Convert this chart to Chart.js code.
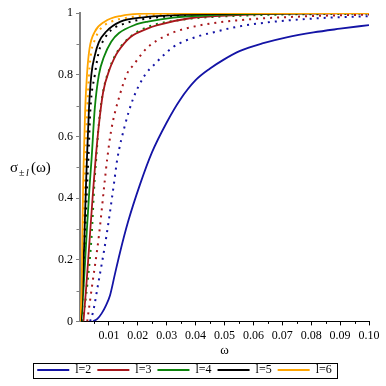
<!DOCTYPE html>
<html>
<head>
<meta charset="utf-8">
<script src="https://cdn.jsdelivr.net/npm/chart.js@4.4.1/dist/chart.umd.min.js"></script>
<style>
html,body{margin:0;padding:0;background:#fff;}
#wrap{width:386px;height:386px;position:relative;}
</style>
</head>
<body>
<div id="wrap"><canvas id="c" width="386" height="386"></canvas></div>
<script>
// ---- data (omega, sigma) ----
const xTicks = [0.01,0.02,0.03,0.04,0.05,0.06,0.07,0.08,0.09,0.10];
const yTicks = [0,0.2,0.4,0.6,0.8,1];
const legendLabels = ['l=2','l=3','l=4','l=5','l=6'];
const seriesColors = ['#1414a6','#a8171c','#0c840c','#000000','#ffa500'];

const w_l2_solid = [0.0045,0.0060,0.0075,0.0090,0.0104,0.0120,0.0138,0.0166,0.0208,0.0249,0.0300,0.0346,0.0400,0.0450,0.0496,0.0554,0.0634,0.0715,0.0808,0.0900,0.1000];
const s_l2_solid = [0,0.008,0.026,0.052,0.085,0.150,0.222,0.322,0.445,0.548,0.645,0.718,0.782,0.820,0.848,0.877,0.902,0.921,0.937,0.949,0.961];
const w_l2_dot = [0.0035,0.0045,0.0062,0.0091,0.0118,0.0129,0.0155,0.0183,0.0224,0.0254,0.0323,0.0404,0.0460,0.0542,0.0634,0.0807,0.1000];
const s_l2_dot = [0,0.030,0.117,0.274,0.450,0.526,0.634,0.720,0.798,0.830,0.890,0.923,0.937,0.955,0.968,0.982,0.990];

const w_l3_solid = [0.0012,0.0022,0.0034,0.0045,0.0054,0.0065,0.0080,0.0103,0.0118,0.0131,0.0175,0.0235,0.0265,0.0380,0.0540,0.0750,0.1000];
const s_l3_solid = [0,0.117,0.274,0.420,0.526,0.634,0.743,0.819,0.852,0.874,0.922,0.950,0.960,0.983,0.993,0.998,0.999];
const w_l3_dot = [0.0025,0.0042,0.0065,0.0085,0.0094,0.0108,0.0137,0.0166,0.0184,0.0201,0.0230,0.0265,0.0323,0.0404,0.0542,0.0750,0.1000];
const s_l3_dot = [0,0.117,0.274,0.450,0.526,0.620,0.732,0.809,0.830,0.852,0.885,0.910,0.937,0.958,0.976,0.988,0.995];

const w_l4_solid = [0.0005,0.0015,0.0024,0.0034,0.0040,0.0051,0.0065,0.0083,0.0108,0.0135,0.0189,0.0235,0.0323,0.0540,0.1000];
const s_l4_solid = [0,0.150,0.300,0.450,0.526,0.689,0.798,0.858,0.907,0.935,0.961,0.972,0.985,0.996,1.000];
const w_l4_dot = [0.0010,0.0025,0.0040,0.0050,0.0056,0.0065,0.0080,0.0103,0.0130,0.0175,0.0235,0.0350,0.0550,0.1000];
const s_l4_dot = [0,0.117,0.274,0.450,0.526,0.640,0.745,0.822,0.876,0.924,0.955,0.978,0.991,0.998];

const w_l5_solid = [0.0003,0.0011,0.0016,0.0021,0.0024,0.0031,0.0039,0.0052,0.0065,0.0091,0.0140,0.0220,0.0350,0.0600,0.1000];
const s_l5_solid = [0,0.150,0.300,0.450,0.526,0.689,0.798,0.865,0.905,0.940,0.972,0.986,0.994,0.999,1.000];
const w_l5_dot = [0.0004,0.0013,0.0019,0.0025,0.0029,0.0036,0.0051,0.0065,0.0085,0.0108,0.0155,0.0224,0.0350,0.0600,0.1000];
const s_l5_dot = [0,0.150,0.300,0.450,0.526,0.689,0.798,0.874,0.917,0.945,0.966,0.981,0.991,0.998,1.000];

const w_l6_solid = [0,0.0006,0.0008,0.0011,0.0013,0.0018,0.0024,0.0033,0.0051,0.0085,0.0143,0.0235,0.0500,0.1000];
const s_l6_solid = [0,0.120,0.274,0.450,0.526,0.689,0.798,0.885,0.939,0.972,0.991,0.998,1.000,1.000];
const w_l6_dot = [0.0002,0.0009,0.0012,0.0016,0.0018,0.0025,0.0031,0.0039,0.0051,0.0068,0.0108,0.0166,0.0250,0.0500,0.1000];
const s_l6_dot = [0,0.150,0.300,0.450,0.526,0.689,0.798,0.874,0.912,0.945,0.972,0.985,0.993,0.999,1.000];

const solidW = [w_l2_solid,w_l3_solid,w_l4_solid,w_l5_solid,w_l6_solid];
const solidS = [s_l2_solid,s_l3_solid,s_l4_solid,s_l5_solid,s_l6_solid];
const dotW = [w_l2_dot,w_l3_dot,w_l4_dot,w_l5_dot,w_l6_dot];
const dotS = [s_l2_dot,s_l3_dot,s_l4_dot,s_l5_dot,s_l6_dot];

function pts(w,s){ return w.map((x,i)=>({x:x,y:s[i]})); }

const datasets = [];
for (let i=0;i<5;i++){
  datasets.push({label:legendLabels[i], data:pts(solidW[i],solidS[i]), borderColor:seriesColors[i], backgroundColor:seriesColors[i],
    borderWidth:1.8, pointRadius:0, cubicInterpolationMode:'monotone', order: 4-i});
}
for (let i=0;i<5;i++){
  datasets.push({label:legendLabels[i]+' dotted', data:pts(dotW[i],dotS[i]), borderColor:seriesColors[i], backgroundColor:seriesColors[i],
    borderWidth:2, borderDash:[2,5], borderCapStyle:'butt', pointRadius:0, cubicInterpolationMode:'monotone', order: 9-i});
}

const serif = '"Liberation Serif", "Times New Roman", serif';

const decor = {
  id:'decor',
  afterDraw(chart){
    const ctx = chart.ctx;
    const xs = chart.scales.x, ys = chart.scales.y;
    ctx.save();
    // minor ticks
    ctx.lineWidth = 1;
    ctx.strokeStyle = '#000';
    for (let k=0;k<10;k++){
      const v = 0.005 + k*0.01;
      const px = Math.round(xs.getPixelForValue(v))+0.5;
      ctx.beginPath(); ctx.moveTo(px, ys.bottom); ctx.lineTo(px, ys.bottom+2.5); ctx.stroke();
    }
    ctx.strokeStyle = '#808080';
    for (let k=0;k<5;k++){
      const v = 0.1 + k*0.2;
      const py = Math.round(ys.getPixelForValue(v))+0.5;
      ctx.beginPath(); ctx.moveTo(xs.left-1, py); ctx.lineTo(xs.left-3.5, py); ctx.stroke();
    }
    // y-axis title with subscript
    ctx.fillStyle = '#000';
    ctx.textBaseline = 'alphabetic';
    ctx.textAlign = 'left';
    const cy = (ys.top+ys.bottom)/2 + 5;
    ctx.font = '15px ' + serif;
    ctx.fillText('\u03C3', 10, cy);
    ctx.font = '10px ' + serif;
    ctx.fillText('\u00B1', 19, cy+4);
    ctx.font = 'italic 10px ' + serif;
    ctx.fillText('l', 26, cy+4);
    ctx.font = '15px ' + serif;
    ctx.fillText('(\u03C9)', 31, cy);
    // legend frame
    const lg = chart.legend;
    if (lg && lg.legendHitBoxes && lg.legendHitBoxes.length){
      const hb = lg.legendHitBoxes;
      const l = hb[0].left - 4, r = hb[hb.length-1].left + hb[hb.length-1].width + 5;
      const t = hb[0].top - 1.5, h = hb[0].height + 3;
      ctx.strokeStyle = '#000'; ctx.lineWidth = 1;
      ctx.strokeRect(Math.round(l)+0.5, Math.round(t)+0.5, Math.round(r-l), Math.round(h));
    }
    ctx.restore();
  }
};

new Chart(document.getElementById('c'), {
  type:'line',
  data:{datasets:datasets},
  plugins:[decor],
  options:{
    responsive:false,
    animation:false,
    devicePixelRatio:1,
    layout:{padding:{left:0,right:17,top:13,bottom:0}},
    plugins:{
      tooltip:{enabled:false},
      legend:{
        position:'bottom',
        labels:{
          boxWidth:32, boxHeight:2, padding:6, color:'#000',
          font:{family:serif, size:12},
          generateLabels(chart){
            return legendLabels.map((t,i)=>({text:t, fillStyle:seriesColors[i], strokeStyle:seriesColors[i], lineWidth:0, datasetIndex:i, hidden:false}));
          }
        }
      }
    },
    scales:{
      x:{
        type:'linear', min:0, max:0.1,
        afterBuildTicks(s){ s.ticks = xTicks.map(v=>({value:v})); },
        afterFit(s){ s.height = 36.6; },
        grid:{display:true, drawOnChartArea:false, drawTicks:true, tickLength:4, tickColor:'#000'},
        border:{display:true, color:'#000', width:1},
        ticks:{color:'#000', padding:3, maxRotation:0, autoSkip:false, font:{family:serif,size:12},
          callback:(v)=>Number(v).toFixed(2)},
        title:{display:true, text:'\u03C9', color:'#000', font:{family:serif,size:13}, padding:{top:0,bottom:0}}
      },
      y:{
        type:'linear', min:0, max:1,
        afterBuildTicks(s){ s.ticks = yTicks.map(v=>({value:v})); },
        afterFit(s){ s.width = 80; },
        grid:{display:true, drawOnChartArea:false, drawTicks:true, tickLength:4, tickColor:'#808080'},
        border:{display:true, color:'#808080', width:2},
        ticks:{color:'#000', padding:3, font:{family:serif,size:12},
          callback:(v)=> v===0?'0':(v===1?'1':Number(v).toFixed(1))}
      }
    }
  }
});
</script>
</body>
</html>
